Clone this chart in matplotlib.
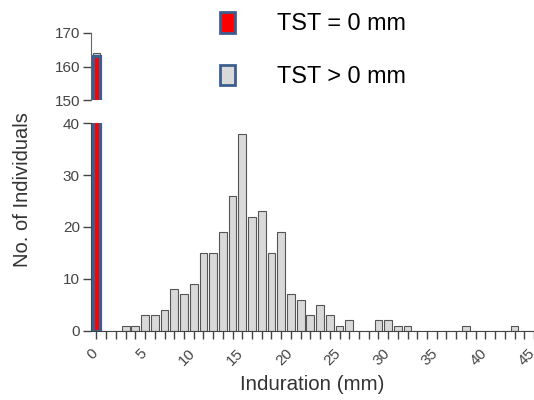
import matplotlib.pyplot as plt
import matplotlib.transforms as mtransforms
from matplotlib.patches import Patch

# induration bins (mm) and counts
induration = list(range(0, 46))
counts = [164, 0, 0, 1, 1, 3, 3, 4, 8, 7, 9, 15, 15, 19, 26, 38, 22, 23, 15, 19,
          7, 6, 3, 5, 3, 1, 2, 0, 0, 2, 2, 1, 1, 0, 0, 0, 0, 0, 1, 0,
          0, 0, 0, 1, 0, 0]
zero_x = [0]
zero_count = [163]

tick_labels = ['0', '5', '10', '15', '20', '25', '30', '35', '40', '45']

plt.rcParams['font.family'] = ['Liberation Sans', 'DejaVu Sans']

RED = '#ff0000'
BLUE = '#3d5f8f'
GRAY = '#d9d9d9'
AX = '#444444'

fig = plt.figure(figsize=(5.34, 4.0), dpi=100)
left = 91 / 534
width = 1.0 - left
ax_low = fig.add_axes([left, 1 - 330.7 / 400, width, (330.7 - 123.3) / 400])
ax_top = fig.add_axes([left, 1 - 100 / 400, width, (100 - 33) / 400])

for ax in (ax_low, ax_top):
    ax.bar(induration, counts, width=0.8, color=GRAY, edgecolor='#555555', linewidth=0.8)
    ax.bar(zero_x, zero_count, width=0.68, color=RED, edgecolor=BLUE, linewidth=2.3, zorder=3)
    ax.set_xlim(-0.56, 45.0)
    for s in ('top', 'right'):
        ax.spines[s].set_visible(False)
    ax.spines['left'].set_color(AX)
    ax.tick_params(axis='y', length=6, width=1, colors=AX, pad=2, labelsize=11)

ax_top.spines['left'].set_color('#666666')

ax_low.set_ylim(0, 40)
ax_low.set_yticks([0, 10, 20, 30, 40])
ax_low.spines['bottom'].set_color(AX)
ax_low.set_xticks(induration)
ax_low.set_xticklabels([str(v) if str(v) in tick_labels else '' for v in induration],
                       rotation=45, ha='right')
ax_low.tick_params(axis='x', length=5.4, width=1, colors=AX, pad=6, labelsize=11)
shift = mtransforms.ScaledTranslation(4 / 100, 0, fig.dpi_scale_trans)
for lab in ax_low.get_xticklabels():
    lab.set_transform(lab.get_transform() + shift)
ax_low.set_xlabel('Induration (mm)', fontsize=14.8, color='#333333', labelpad=5)

ax_top.set_ylim(150, 170)
ax_top.set_yticks([150, 160, 170])
ax_top.spines['bottom'].set_visible(False)
ax_top.set_xticks([])

fig.text(23 / 534, 1 - 190 / 400, 'No. of Individuals', rotation=90,
         ha='center', va='center', fontsize=14.5, color='#333333')

handles = [Patch(facecolor=RED, edgecolor=BLUE, linewidth=2.0),
           Patch(facecolor=GRAY, edgecolor=BLUE, linewidth=2.0)]
fig.legend(handles, ['TST = 0 mm', 'TST > 0 mm'], loc='upper left',
           bbox_to_anchor=(220 / 534, 1 - 12 / 400), frameon=False,
           fontsize=16.8, handlelength=0.66, handleheight=1.0,
           handletextpad=1.8, labelspacing=1.25, borderpad=0, borderaxespad=0)

fig.savefig('out.png', dpi=100)
